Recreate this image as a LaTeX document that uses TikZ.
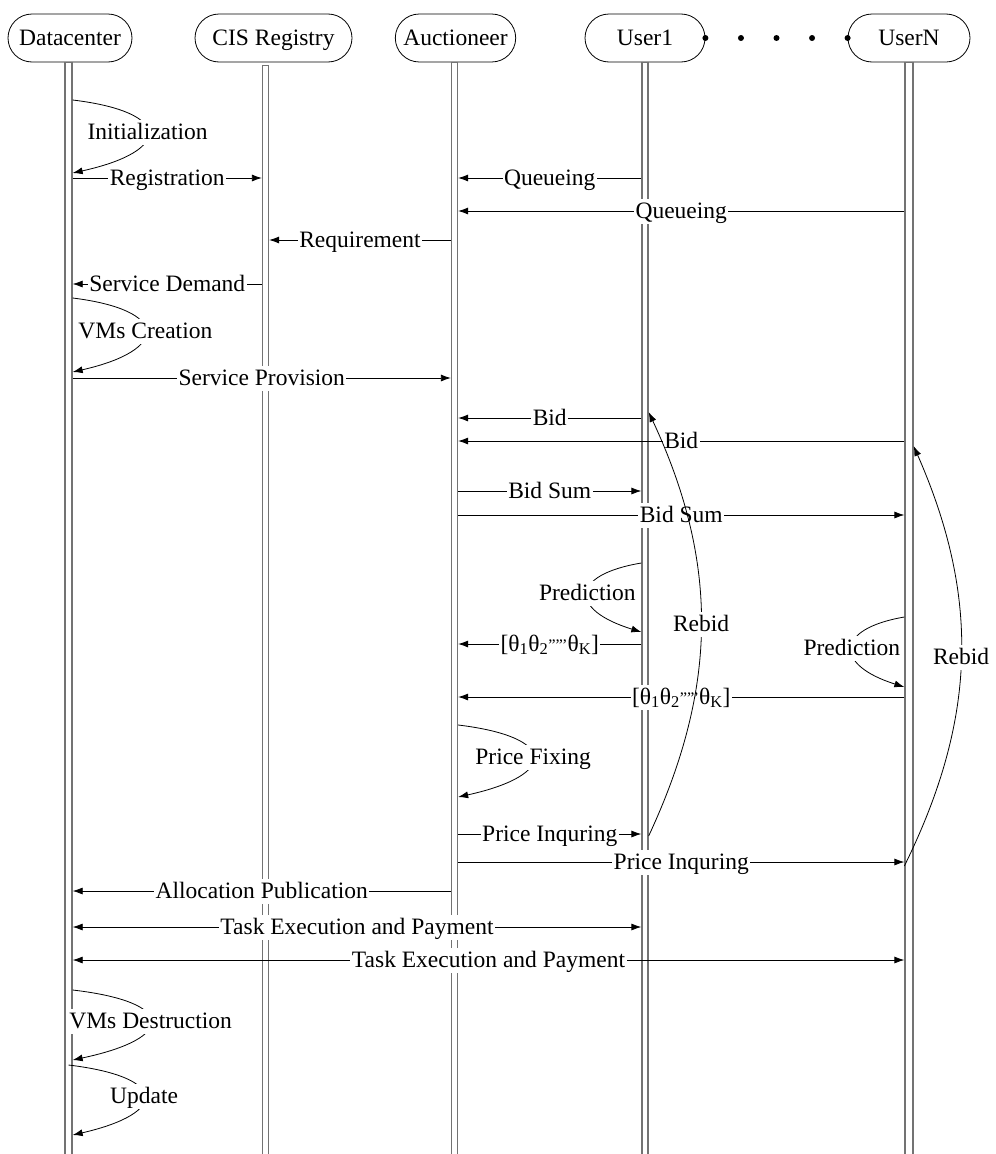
\documentclass[tikz,border=0pt]{standalone}
\usepackage{fontspec}
\setmainfont{Liberation Serif}
\usetikzlibrary{arrows.meta, positioning, calc}

\begin{document}
\begin{tikzpicture}[x=1pt, y=-1pt,
	font=\fontsize{23.5}{28}\selectfont,
	actor/.style={draw, rounded corners=24pt, minimum height=48pt, minimum width=118pt, inner xsep=8pt, line width=0.8pt, text height=17pt, text depth=3pt},
	life/.style={draw=black!55, line width=1.3pt, minimum width=6pt, inner sep=0pt, anchor=north},
	msg/.style={line width=0.8pt, -{Latex[length=10pt, width=7pt]}},
	both/.style={line width=0.8pt, {Latex[length=10pt, width=7pt]}-{Latex[length=10pt, width=7pt]}},
	lbl/.style={fill=white, inner xsep=1.5pt, inner ysep=2.5pt, text height=17pt, text depth=3pt}]
	\useasboundingbox (0,0) rectangle (996,1154);

	% actors
	\node[actor, minimum width=124pt] (dc) at (70,38) {Datacenter};
	\node[actor, minimum width=157pt] (cis) at (273.5,38) {CIS Registry};
	\node[actor] (auc) at (455.5,38) {Auctioneer};
	\node[actor, minimum width=120pt] (u1) at (645,38) {User1};
	\node[actor, minimum width=122pt] (uN) at (909,38) {UserN};
	\foreach \i in {0,...,4}
		\fill ($(u1.east)!\i/4!(uN.west)$) circle (3pt);

	% lifelines
	\node[life, minimum width=7pt, minimum height=1092pt] (dcL) at (68.5,62) {};
	\node[life, minimum height=1089pt] (cisL) at (265.5,65) {};
	\node[life, minimum height=1092pt] (aucL) at (454.5,62) {};
	\node[life, minimum height=1092pt] (u1L) at (645,62) {};
	\node[life, minimum width=8pt, minimum height=1092pt] (uNL) at (909,62) {};

	% message rows
	\foreach \n/\y in {ini1/100, ini2/173, reg/178, queA/178, queB/211, req/240, dem/284,
		vm1/298, vm2/372, prov/378, bidA/418, bidB/441, sumA/491, sumB/515,
		preA1/563, preA2/632, thA/644, preB1/617, preB2/687, thB/697,
		fix1/725, fix2/797, inqA/834, inqB/862, alloc/891, payA/927, payB/960,
		des1/990, des2/1060, upd1/1065, upd2/1135,
		rebA1/836, rebA2/412, rebB1/866, rebB2/446}
		\coordinate (\n) at (0,\y);

	\draw[msg] (dcL.east |- ini1) .. controls +(100,12) and +(100,-22) .. node[lbl]{Initialization} (dcL.east |- ini2);
	\draw[msg] (dcL.east |- reg) -- node[lbl]{Registration} (cisL.west |- reg);
	\draw[msg] (u1L.west |- queA) -- node[lbl]{Queueing} (aucL.east |- queA);
	\draw[msg] (uNL.west |- queB) -- node[lbl]{Queueing} (aucL.east |- queB);
	\draw[msg] (aucL.west |- req) -- node[lbl]{Requirement} (cisL.east |- req);
	\draw[msg] (cisL.west |- dem) -- node[lbl]{Service Demand} (dcL.east |- dem);
	\draw[msg] (dcL.east |- vm1) .. controls +(97,12) and +(97,-22) .. node[lbl]{VMs Creation} (dcL.east |- vm2);
	\draw[msg] (dcL.east |- prov) -- node[lbl]{Service Provision} (aucL.west |- prov);
	\draw[msg] (u1L.west |- bidA) -- node[lbl]{Bid} (aucL.east |- bidA);
	\draw[msg] (uNL.west |- bidB) -- node[lbl]{Bid} (aucL.east |- bidB);
	\draw[msg] (aucL.east |- sumA) -- node[lbl]{Bid Sum} (u1L.west |- sumA);
	\draw[msg] (aucL.east |- sumB) -- node[lbl]{Bid Sum} (uNL.west |- sumB);
	\draw[msg] (u1L.west |- preA1) .. controls +(-72,12) and +(-72,-22) .. node[lbl]{Prediction} (u1L.west |- preA2);
	\draw[msg] (u1L.west |- thA) -- node[lbl]{[θ\textsubscript{1}θ\textsubscript{2}\textsuperscript{,,,,,}θ\textsubscript{K}]} (aucL.east |- thA);
	\draw[msg] (uNL.west |- preB1) .. controls +(-70,12) and +(-70,-22) .. node[lbl]{Prediction} (uNL.west |- preB2);
	\draw[msg] (uNL.west |- thB) -- node[lbl]{[θ\textsubscript{1}θ\textsubscript{2}\textsuperscript{,,,,,}θ\textsubscript{K}]} (aucL.east |- thB);
	\draw[msg] (aucL.east |- fix1) .. controls +(100,12) and +(100,-22) .. node[lbl]{Price Fixing} (aucL.east |- fix2);
	\draw[msg] (aucL.east |- inqA) -- node[lbl]{Price Inquring} (u1L.west |- inqA);
	\draw[msg] (aucL.east |- inqB) -- node[lbl]{Price Inquring} (uNL.west |- inqB);
	\draw[msg] (aucL.west |- alloc) -- node[lbl]{Allocation Publication} (dcL.east |- alloc);
	\draw[both] (dcL.east |- payA) -- node[lbl]{Task Execution and Payment} (u1L.west |- payA);
	\draw[both] (dcL.east |- payB) -- node[lbl]{Task Execution and Payment} (uNL.west |- payB);
	\draw[msg] (dcL.east |- des1) .. controls +(104,12) and +(104,-22) .. node[lbl]{VMs Destruction} (dcL.east |- des2);
	\draw[msg] (dcL |- upd1) .. controls +(100,12) and +(96,-22) .. node[lbl]{Update} (dcL.east |- upd2);

	% rebids
	\draw[msg] (u1L.east |- rebA1) to[bend right=25] node[lbl]{Rebid} (u1L.east |- rebA2);
	\draw[msg] (uNL.west |- rebB1) to[bend right=25] node[lbl]{Rebid} (uNL.east |- rebB2);
\end{tikzpicture}
\end{document}
